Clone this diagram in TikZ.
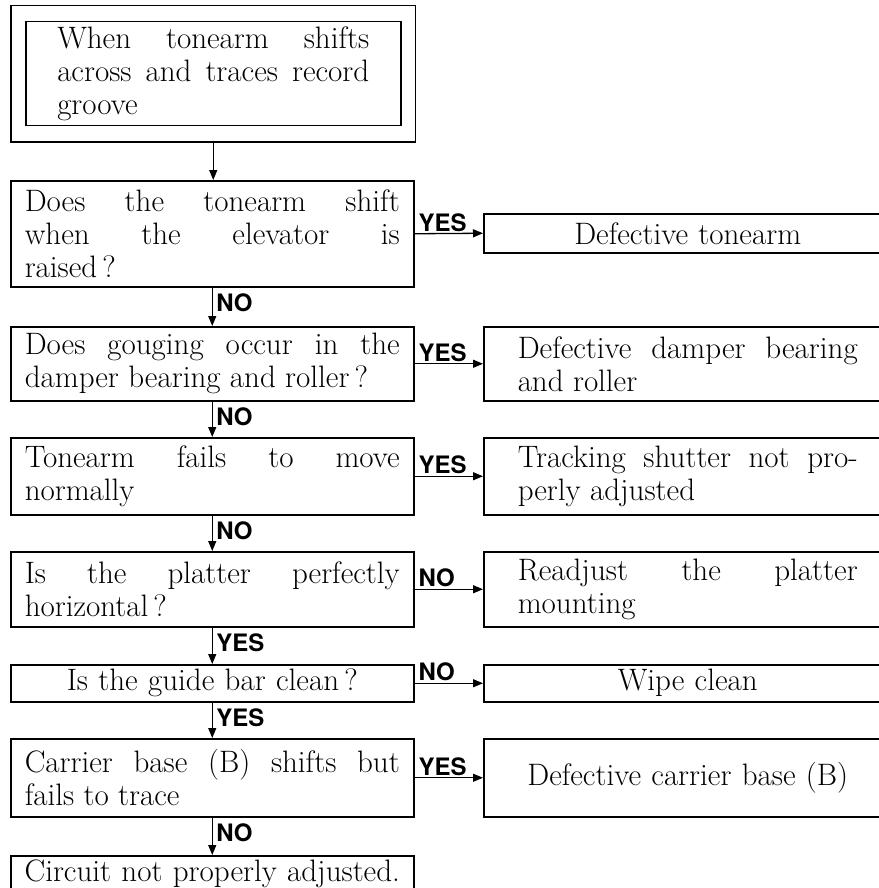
\documentclass[tikz,border=0pt]{standalone}
\usepackage{fontspec}
\newfontfamily\lblfont{TeX Gyre Heros}
\usetikzlibrary{positioning, fit, arrows.meta}

\tikzset{
  box/.style={draw, line width=1.5pt, anchor=north west, inner ysep=3pt,
    align=justify, font=\fontsize{31}{33}\selectfont},
  lbox/.style={box, text width=375pt, inner xsep=14pt},
  rbox/.style={box, text width=340pt, inner xsep=34pt},
  arr/.style={-{Triangle[length=10pt,width=8pt]}, line width=1.3pt},
  lbl/.style={font=\lblfont\bfseries\fontsize{24}{24}\selectfont, inner sep=1.5pt}
}

\begin{document}
\begin{tikzpicture}[x=1pt, y=-1pt]
    \useasboundingbox (0,0) rectangle (878,888);

    % start box (double frame)
    \node[box, text width=312pt, inner xsep=31.5pt, minimum height=104pt] (start) at (25,21)
      {When tonearm shifts\linebreak across and traces record\linebreak groove};
    \node[draw, line width=1.5pt, fit=(start), inner xsep=14pt, inner ysep=15.5pt] (frame) {};

    % questions (left column)
    \node[lbox, minimum height=106pt] (q1) at (10,180)
      {Does the tonearm shift\linebreak when the elevator is\linebreak raised\,?};
    \node[lbox, minimum height=74pt] (q2) at (10,326)
      {Does gouging occur in the\linebreak damper bearing and roller\,?};
    \node[lbox, minimum height=77pt] (q3) at (10,437)
      {Tonearm fails to move\linebreak normally};
    \node[lbox, minimum height=75pt] (q4) at (10,551)
      {Is the platter perfectly\linebreak horizontal\,?};
    \node[lbox, minimum height=37pt, align=center] (q5) at (10,664)
      {Is the guide bar clean\,?};
    \node[lbox, minimum height=78pt] (q6) at (10,738)
      {Carrier base (B) shifts but\linebreak fails to trace};
    \node[lbox, text width=393pt, inner xsep=5pt, minimum height=36pt, align=center] (q7) at (10,855)
      {Circuit not properly adjusted.};

    % results (right column)
    \node[rbox, minimum height=39pt, align=center] (r1) at (483,213) {Defective tonearm};
    \node[rbox, minimum height=74pt] (r2) at (483,326)
      {Defective damper bearing\linebreak and roller};
    \node[rbox, minimum height=77pt] (r3) at (483,437)
      {Tracking shutter not pro-\linebreak perly adjusted};
    \node[rbox, minimum height=75pt] (r4) at (483,551)
      {Readjust the platter\linebreak mounting};
    \node[rbox, minimum height=37pt, align=center] (r5) at (483,664) {Wipe clean};
    \node[rbox, minimum height=78pt, align=center] (r6) at (483,738)
      {Defective carrier base (B)};

    % vertical flow
    \draw[arr] (frame.south) -- (frame.south |- q1.north);
    \draw[arr] (q1.south) -- node[lbl, pos=0, anchor=north west, xshift=2pt, yshift=-4pt] {NO} (q2.north);
    \draw[arr] (q2.south) -- node[lbl, pos=0, anchor=north west, xshift=2pt, yshift=-4pt] {NO} (q3.north);
    \draw[arr] (q3.south) -- node[lbl, pos=0, anchor=north west, xshift=2pt, yshift=-4pt] {NO} (q4.north);
    \draw[arr] (q4.south) -- node[lbl, pos=0, anchor=north west, xshift=2pt, yshift=-4pt] {YES} (q5.north);
    \draw[arr] (q5.south) -- node[lbl, pos=0, anchor=north west, xshift=2pt, yshift=-4pt] {YES} (q6.north);
    \draw[arr] (q6.south) -- node[lbl, pos=0, anchor=north west, xshift=2pt, yshift=-4pt] {NO} (q7.north);

    % side branches
    \draw[arr] (q1.east) -- node[lbl, pos=0, anchor=south west, xshift=2pt] {YES} (r1.west);
    \draw[arr] (q2.east) -- node[lbl, pos=0, anchor=south west, xshift=2pt] {YES} (r2.west);
    \draw[arr] (q3.east) -- node[lbl, pos=0, anchor=south west, xshift=2pt] {YES} (r3.west);
    \draw[arr] (q4.east) -- node[lbl, pos=0, anchor=south west, xshift=2pt] {NO} (r4.west);
    \draw[arr] (q5.east) -- node[lbl, pos=0, anchor=south west, xshift=2pt] {NO} (r5.west);
    \draw[arr] (q6.east) -- node[lbl, pos=0, anchor=south west, xshift=2pt] {YES} (r6.west);

\end{tikzpicture}
\end{document}
